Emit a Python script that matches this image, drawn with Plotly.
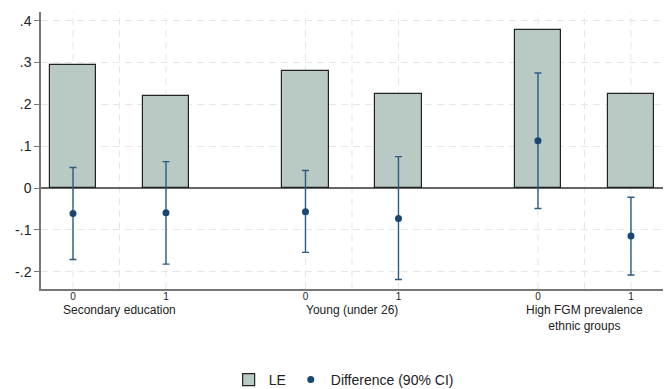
import plotly.graph_objects as go

groups = ["Secondary education", "Young (under 26)", "High FGM prevalence<br>ethnic groups"]
subcats = ["0", "1"]
le_values = [0.294, 0.221, 0.280, 0.224, 0.377, 0.226]
diff_values = [-0.061, -0.059, -0.057, -0.073, 0.113, -0.115]
ci_upper = [0.049, 0.063, 0.042, 0.075, 0.275, -0.022]
ci_lower = [-0.171, -0.182, -0.154, -0.219, -0.049, -0.208]
ytick_vals = [-0.2, -0.1, 0, 0.1, 0.2, 0.3, 0.4]
ytick_text = ["-.2", "-.1", "0", ".1", ".2", ".3", ".4"]

GAP = 2.5
xpos = [g * GAP + k for g in range(len(groups)) for k in range(len(subcats))]
xlabels = [s for g in groups for s in subcats]

FONT = "Liberation Sans, Arial, sans-serif"
NAVY = "#1a476f"

fig = go.Figure()
fig.add_trace(go.Bar(
    x=xpos, y=le_values, name="LE", width=0.5,
    marker=dict(color="#b9c9c3", line=dict(color="#222222", width=1.2)),
))
fig.add_trace(go.Scatter(
    x=xpos, y=diff_values, mode="markers", name="Difference (90% CI)",
    marker=dict(color=NAVY, size=7),
    error_y=dict(type="data", symmetric=False,
                 array=[u - d for u, d in zip(ci_upper, diff_values)],
                 arrayminus=[d - l for d, l in zip(diff_values, ci_lower)],
                 color="#2b5a84", thickness=1.4, width=3.5),
))

shapes = []
vlines = list(xpos) + [g * GAP + 0.5 for g in range(len(groups))]
for xv in vlines:
    shapes.append(dict(type="line", xref="x", yref="paper", x0=xv, x1=xv, y0=0, y1=1,
                       line=dict(color="#e6e6e6", width=1, dash="7px,5px"), layer="below"))

annotations = []
for g, name in enumerate(groups):
    annotations.append(dict(x=g * GAP + 0.5, y=-0.042, xref="x", yref="paper",
                            text=name, showarrow=False, yanchor="top", xanchor="center",
                            font=dict(family=FONT, size=12, color="#222222")))

# page body has an 8px default margin, so the figure is sized 8px smaller
fig.update_layout(
    width=663, height=381,
    margin=dict(l=33, r=6, t=4, b=100, autoexpand=False),
    paper_bgcolor="white", plot_bgcolor="white",
    font=dict(family=FONT, color="#222222"),
    bargap=0,
    shapes=shapes, annotations=annotations,
    legend=dict(orientation="h", x=0.485, xanchor="center", y=-0.3285, yanchor="middle",
                font=dict(family=FONT, size=14, color="#222222")),
    xaxis=dict(range=[-0.344, 6.366], tickvals=xpos, ticktext=xlabels, automargin=False,
               showgrid=False, zeroline=False, showline=True, linecolor="#777777", linewidth=1.5,
               ticks="outside", ticklen=0, ticklabelstandoff=-3,
               tickfont=dict(size=10, color="#222222")),
    yaxis=dict(range=[-0.2416, 0.421], tickvals=ytick_vals, ticktext=ytick_text, automargin=False,
               showgrid=True, gridcolor="#e6e6e6", griddash="7px,5px", gridwidth=1,
               zeroline=True, zerolinecolor="#666666", zerolinewidth=1.5,
               showline=True, linecolor="#777777", linewidth=1.5,
               ticks="outside", ticklen=5, tickcolor="#777777",
               tickfont=dict(size=14, color="#222222")),
)

fig.write_html("out.html")
